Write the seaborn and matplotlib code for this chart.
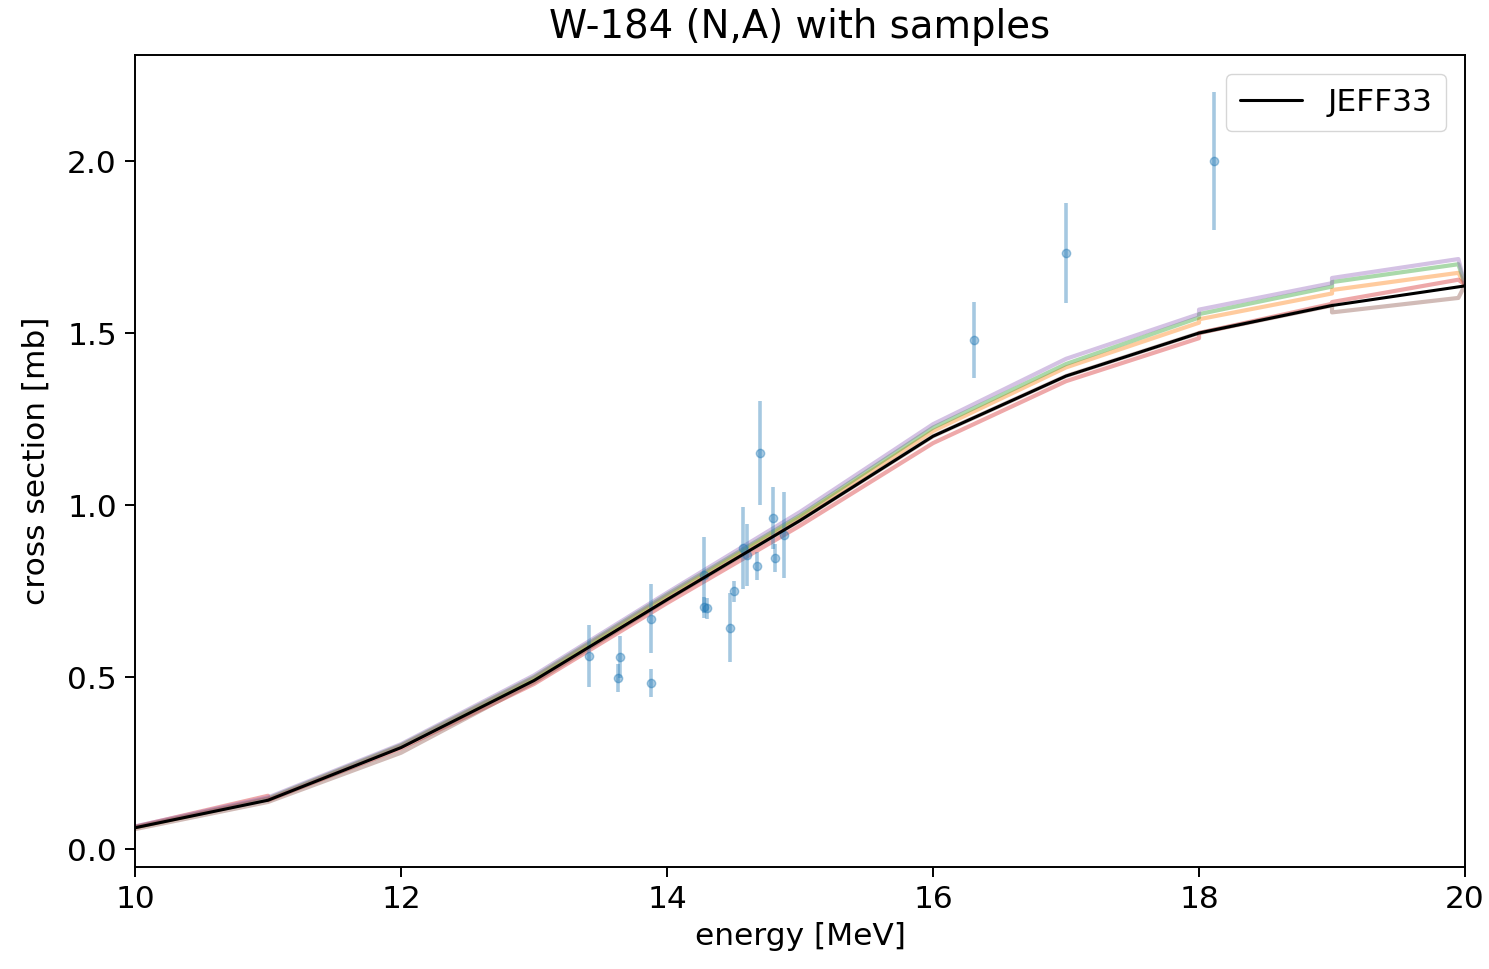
import matplotlib
matplotlib.use("Agg")
import matplotlib.pyplot as plt
import seaborn as sns
import pandas as pd
import numpy as np

# ---- data ----
energy = [10, 11, 12, 13, 14, 15, 16, 17, 18, 19, 20]
jeff33 = [0.062, 0.142, 0.295, 0.49, 0.725, 0.955, 1.20, 1.375, 1.50, 1.58, 1.637]

sample_energy = [10, 11, 11, 12, 13, 14, 15, 16, 17, 18, 18, 19, 19, 19.95, 20]
sample_1 = [0.063, 0.145, 0.145, 0.300, 0.497, 0.735, 0.965, 1.215, 1.400, 1.530, 1.540, 1.615, 1.625, 1.675, 1.64]
sample_2 = [0.064, 0.147, 0.147, 0.302, 0.500, 0.740, 0.970, 1.225, 1.410, 1.545, 1.555, 1.635, 1.648, 1.700, 1.64]
sample_3 = [0.065, 0.155, 0.142, 0.293, 0.480, 0.715, 0.940, 1.180, 1.360, 1.485, 1.500, 1.585, 1.590, 1.655, 1.64]
sample_4 = [0.066, 0.150, 0.150, 0.305, 0.505, 0.745, 0.980, 1.235, 1.425, 1.555, 1.568, 1.645, 1.660, 1.715, 1.64]
sample_5 = [0.058, 0.137, 0.137, 0.280, 0.485, 0.725, 0.955, 1.200, 1.375, 1.500, 1.500, 1.580, 1.560, 1.602, 1.64]
sample_colors = ["#ff7f0e", "#2ca02c", "#d62728", "#9467bd", "#8c564b"]

exp_energy = [13.41, 13.63, 13.65, 13.88, 13.88, 14.28, 14.28, 14.30, 14.47, 14.50,
              14.57, 14.60, 14.68, 14.70, 14.80, 14.81, 14.88, 16.31, 17.00, 18.11]
exp_xs = [0.561, 0.497, 0.558, 0.670, 0.483, 0.797, 0.703, 0.700, 0.643, 0.749,
          0.875, 0.855, 0.823, 1.151, 0.962, 0.846, 0.913, 1.480, 1.733, 2.000]
exp_err = [0.089, 0.040, 0.060, 0.100, 0.040, 0.110, 0.030, 0.030, 0.100, 0.030,
           0.120, 0.090, 0.040, 0.150, 0.090, 0.040, 0.125, 0.110, 0.145, 0.200]

# ---- style ----
sns.set_theme(style="ticks", rc={
    "axes.edgecolor": "black", "axes.linewidth": 1.4,
    "xtick.major.size": 7, "ytick.major.size": 7,
    "xtick.major.width": 1.4, "ytick.major.width": 1.4,
    "xtick.color": "black", "ytick.color": "black",
    "text.color": "black", "axes.labelcolor": "black",
})
plt.rcParams["font.family"] = ["DejaVu Sans"]

fig = plt.figure(figsize=(14.89, 9.69), dpi=100)
ax = fig.add_axes([0.0907, 0.1053, 0.8932, 0.8379])

samples = [sample_1, sample_2, sample_3, sample_4, sample_5]
rows = []
for i, s in enumerate(samples):
    for e, v in zip(sample_energy, s):
        rows.append({"energy": e, "xs": v, "sample": f"s{i}"})
df_s = pd.DataFrame(rows)
sns.lineplot(data=df_s, x="energy", y="xs", hue="sample", units="sample",
             estimator=None, sort=False, palette=sample_colors,
             linewidth=3.0, alpha=0.4, legend=False, ax=ax)

ax.errorbar(exp_energy, exp_xs, yerr=exp_err, fmt="o", color="#1f77b4",
            markersize=6, elinewidth=2.6, alpha=0.4, capsize=0, zorder=3)

df_j = pd.DataFrame({"energy": energy, "xs": jeff33})
sns.lineplot(data=df_j, x="energy", y="xs", color="black", linewidth=2.2,
             label="JEFF33", ax=ax, zorder=4)

ax.set_xlim(10, 20)
ax.set_ylim(-0.052, 2.308)
ax.set_xticks([10, 12, 14, 16, 18, 20])
ax.set_yticks([0.0, 0.5, 1.0, 1.5, 2.0])
ax.set_yticklabels(["0.0", "0.5", "1.0", "1.5", "2.0"])
ax.tick_params(labelsize=22.5, pad=6)
ax.set_xlabel("energy [MeV]", fontsize=22.5, labelpad=6)
ax.set_ylabel("cross section [mb]", fontsize=22.5, labelpad=12)
ax.set_title("W-184 (N,A) with samples", fontsize=27.8, pad=12)
ax.legend(loc="upper right", fontsize=22.5, frameon=True, fancybox=True,
          borderpad=0.45, handlelength=2.0, borderaxespad=0.6)

fig.savefig("out.png", dpi=100)
